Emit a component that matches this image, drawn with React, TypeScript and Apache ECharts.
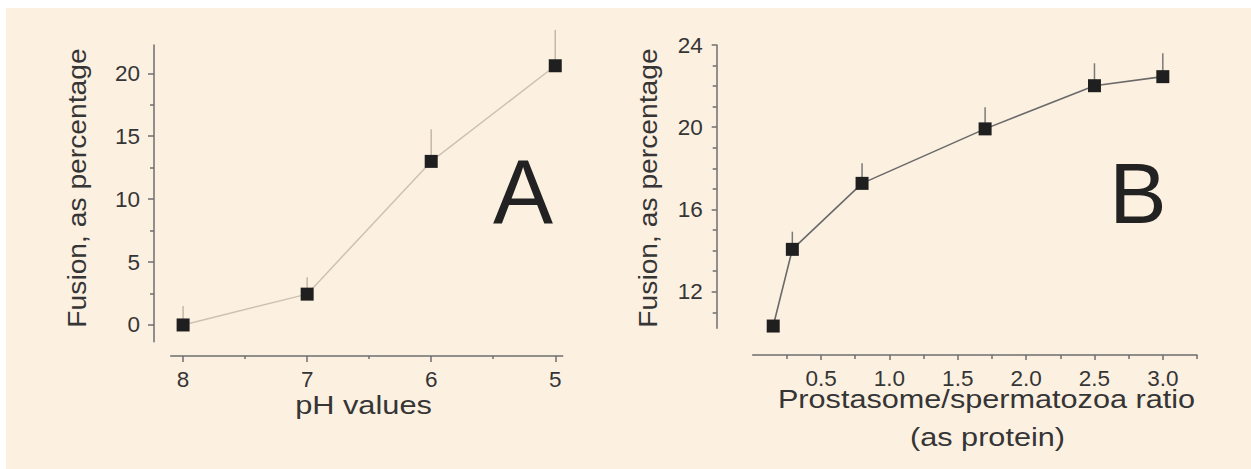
import React, { useEffect, useRef } from "react";
import * as echarts from "echarts";

// Panel A: fusion vs pH
const phValues = [8, 7, 6, 5];
const fusionA = [0, 2.45, 13.0, 20.6];
const sdA = [1.5, 1.35, 2.55, 2.85];
const phTicks = [5, 6, 7, 8];
const phMinorTicks = [5.5, 6.5, 7.5];
const fusionATicks = [0, 5, 10, 15, 20];
const fusionAMinorTicks = [2.5, 7.5, 12.5, 17.5];

// Panel B: fusion vs prostasome/spermatozoa ratio
const ratioB = [0.15, 0.29, 0.8, 1.7, 2.5, 3.0];
const fusionB = [10.33, 14.06, 17.27, 19.92, 22.02, 22.46];
const sdB = [0.2, 0.86, 0.98, 1.05, 1.09, 1.14];
const ratioTicks = [0.5, 1.0, 1.5, 2.0, 2.5, 3.0];
const ratioMinorTicks = [0.25, 0.75, 1.25, 1.75, 2.25, 2.75, 3.25];
const fusionBTicks = [12, 16, 20, 24];
const fusionBMinorTicks = [11, 13, 14, 15, 17, 18, 19, 21, 22, 23];

const FONT = '"Liberation Sans", Arial, Helvetica, sans-serif';
const AXIS_COLOR = "#6e6e6e";
const TEXT_COLOR = "#353535";
const BG = "#fcf0e1";

function makeAxis(opts: any) {
  return {
    type: "value",
    splitLine: { show: false },
    axisLine: {
      show: opts.line !== false,
      onZero: false,
      lineStyle: { color: AXIS_COLOR, width: 1.5 },
    },
    axisTick: {
      show: true,
      inside: false,
      length: opts.tickLen,
      customValues: opts.ticks,
      lineStyle: { color: AXIS_COLOR, width: 1.5 },
    },
    axisLabel: opts.labels
      ? {
          show: true,
          customValues: opts.labels,
          margin: opts.margin,
          color: TEXT_COLOR,
          fontSize: 22.5,
          fontFamily: FONT,
          formatter: opts.formatter,
        }
      : { show: false },
    ...opts.extra,
  };
}

function errorBarSeries(data: number[][], xi: number, yi: number, color: string) {
  return {
    type: "custom",
    xAxisIndex: xi,
    yAxisIndex: yi,
    clip: false,
    silent: true,
    z: 1,
    encode: { x: 0, y: 1 },
    data,
    renderItem: (params: any, api: any) => {
      const x = api.value(0);
      const y = api.value(1);
      const e = api.value(2);
      const p0 = api.coord([x, y]);
      const p1 = api.coord([x, y + e]);
      return {
        type: "line",
        shape: { x1: p0[0], y1: p0[1], x2: p1[0], y2: p1[1] },
        style: { stroke: color, lineWidth: 1.5 },
      };
    },
  };
}

export default function App() {
  const ref = useRef<HTMLDivElement>(null);

  useEffect(() => {
    document.body.style.margin = "0";
    document.body.style.overflow = "hidden";
    if (!ref.current) return;
    const chart = echarts.init(ref.current, undefined, { renderer: "svg" });

    const dataA = phValues.map((x, i) => [x, fusionA[i]]);
    const errA = phValues.map((x, i) => [x, fusionA[i], sdA[i]]);
    const dataB = ratioB.map((x, i) => [x, fusionB[i]]);
    const errB = ratioB.map((x, i) => [x, fusionB[i], sdB[i]]);

    const aX = { min: 4.94, max: 8.1, inverse: true };
    const aY = { min: -1.33, max: 22.25 };
    const bX = { min: 0, max: 3.25 };
    const bY = { min: 10.22, max: 24 };

    const titleStyle = (text: string, size: number) => ({
      text,
      font: `${size}px ${FONT}`,
      fill: TEXT_COLOR,
      align: "center",
      verticalAlign: "middle",
    });

    chart.setOption({
      animation: false,
      backgroundColor: "#ffffff",
      graphic: [
        {
          type: "rect",
          z: -10,
          shape: { x: 6, y: 8, width: 1245, height: 461 },
          style: { fill: BG },
          silent: true,
        },
        {
          type: "text",
          x: 77.3,
          y: 188,
          rotation: Math.PI / 2,
          scaleX: 1.13,
          style: titleStyle("Fusion, as percentage", 25),
        },
        {
          type: "text",
          x: 363.5,
          y: 405.3,
          scaleX: 1.23,
          style: titleStyle("pH values", 25),
        },
        {
          type: "text",
          x: 648.3,
          y: 188,
          rotation: Math.PI / 2,
          scaleX: 1.13,
          style: titleStyle("Fusion, as percentage", 25),
        },
        {
          type: "text",
          x: 986.5,
          y: 399.6,
          scaleX: 1.226,
          style: titleStyle("Prostasome/spermatozoa ratio", 25),
        },
        {
          type: "text",
          x: 987.5,
          y: 437.3,
          scaleX: 1.226,
          style: titleStyle("(as protein)", 25),
        },
        {
          type: "text",
          x: 523,
          y: 191.8,
          style: { ...titleStyle("A", 90), fill: "#222222" },
        },
        {
          type: "text",
          x: 1138,
          y: 193.2,
          style: { ...titleStyle("B", 86), fill: "#222222" },
        },
      ],
      grid: [
        { left: 170.7, top: 45, width: 392, height: 296.7, containLabel: false },
        { left: 752.7, top: 45, width: 444.3, height: 283.3, containLabel: false },
      ],
      xAxis: [
        makeAxis({
          ticks: phTicks,
          labels: phTicks,
          tickLen: 6,
          margin: 12,
          formatter: (v: number) => String(v),
          extra: { gridIndex: 0, position: "bottom", offset: 14.3, ...aX },
        }),
        makeAxis({
          ticks: phMinorTicks,
          tickLen: 3,
          line: false,
          extra: { gridIndex: 0, position: "bottom", offset: 14.3, ...aX },
        }),
        makeAxis({
          ticks: ratioTicks,
          labels: ratioTicks,
          tickLen: 5,
          margin: 12,
          formatter: (v: number) => v.toFixed(1),
          extra: { gridIndex: 1, position: "bottom", offset: 26.7, ...bX },
        }),
        makeAxis({
          ticks: ratioMinorTicks,
          tickLen: 4,
          line: false,
          extra: { gridIndex: 1, position: "bottom", offset: 26.7, ...bX },
        }),
      ],
      yAxis: [
        makeAxis({
          ticks: fusionATicks,
          labels: fusionATicks,
          tickLen: 6,
          margin: 14,
          formatter: (v: number) => String(v),
          extra: { gridIndex: 0, position: "left", offset: 16.7, ...aY },
        }),
        makeAxis({
          ticks: fusionAMinorTicks,
          tickLen: 4,
          line: false,
          extra: { gridIndex: 0, position: "left", offset: 16.7, ...aY },
        }),
        makeAxis({
          ticks: fusionBTicks,
          labels: fusionBTicks,
          tickLen: 5,
          margin: 14,
          formatter: (v: number) => String(v),
          extra: { gridIndex: 1, position: "left", offset: 36, ...bY },
        }),
        makeAxis({
          ticks: fusionBMinorTicks,
          tickLen: 4,
          line: false,
          extra: { gridIndex: 1, position: "left", offset: 36, ...bY },
        }),
      ],
      series: [
        errorBarSeries(errA, 0, 0, "#c4b8a8"),
        {
          type: "line",
          xAxisIndex: 0,
          yAxisIndex: 0,
          data: dataA,
          z: 2,
          clip: false,
          symbol: "rect",
          symbolSize: 13,
          lineStyle: { color: "#cdc2b2", width: 1.5 },
          itemStyle: { color: "#1f1f1f", borderWidth: 0 },
        },
        errorBarSeries(errB, 2, 2, "#7a7a7a"),
        {
          type: "line",
          xAxisIndex: 2,
          yAxisIndex: 2,
          data: dataB,
          z: 2,
          clip: false,
          symbol: "rect",
          symbolSize: 13,
          lineStyle: { color: "#6a6a6a", width: 1.6 },
          itemStyle: { color: "#1f1f1f", borderWidth: 0 },
        },
      ],
    });

    return () => {
      chart.dispose();
    };
  }, []);

  return <div ref={ref} style={{ width: 1251, height: 469 }} />;
}
